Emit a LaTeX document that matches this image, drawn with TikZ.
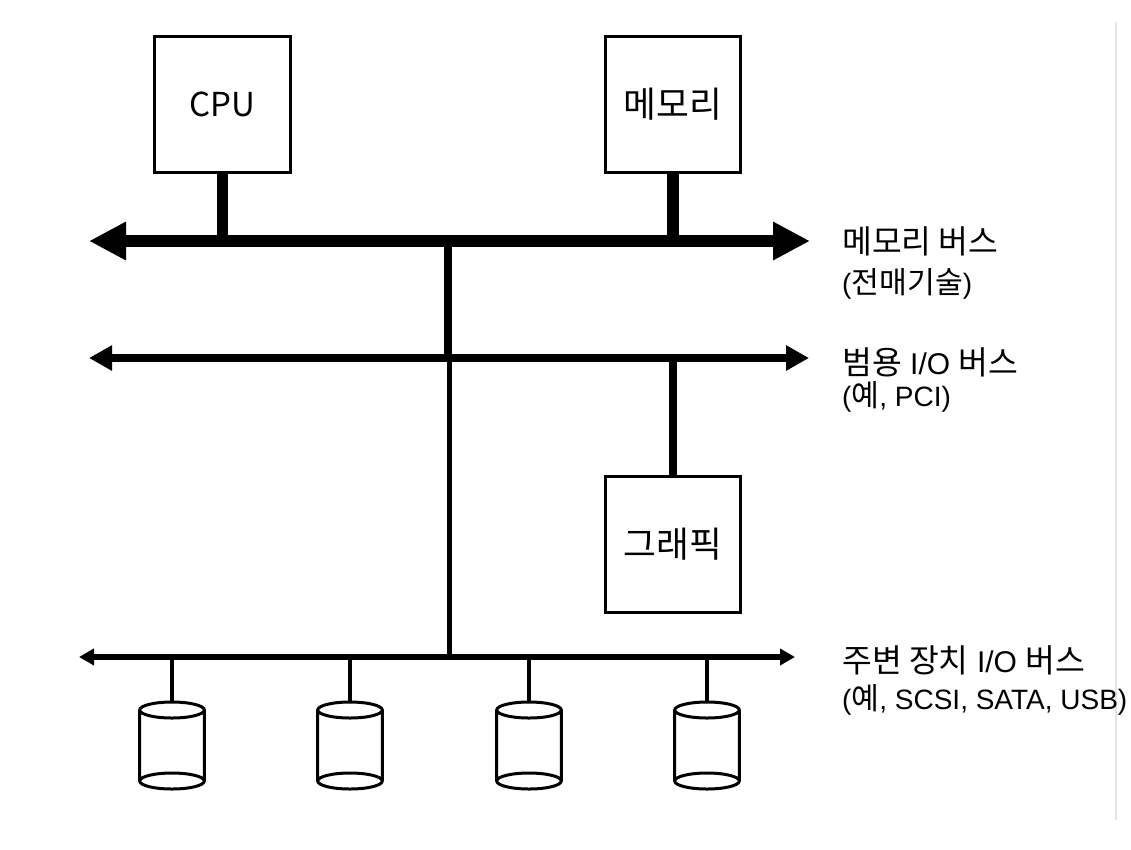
\documentclass[tikz,border=0pt]{standalone}
\usepackage{fontspec}
\setmainfont{Liberation Sans}
\newfontfamily\kr[Scale=1.08]{Noto Sans CJK KR}
\newfontfamily\krlat{Noto Sans CJK KR}
\usetikzlibrary{arrows.meta}

\begin{document}
\begin{tikzpicture}
	[x=1pt,y=-1pt,
	box/.style={draw, line width=3pt, minimum width=135.5pt, minimum height=136pt, inner sep=0pt, font=\kr\fontsize{33}{36}\selectfont},
	lbl/.style={anchor=west, inner sep=0pt, font=\fontsize{30}{34}\selectfont},
	sublbl/.style={anchor=west, inner sep=0pt, font=\fontsize{28}{32}\selectfont},
	membus/.style={line width=12pt, {Triangle[length=37pt,width=36pt]}-{Triangle[length=37pt,width=36pt]}},
	iobus/.style={line width=8pt, {Triangle[length=23pt,width=24pt]}-{Triangle[length=23pt,width=24pt]}},
	perbus/.style={line width=6.5pt, {Triangle[length=15pt,width=16pt]}-{Triangle[length=15pt,width=16pt]}},
	disk/.style={line width=3pt}]
	\useasboundingbox (0,0) rectangle (1131,849);
	\draw[line width=1.5pt, black!10] (1116,22) -- (1116,820);

	\node[box, font=\krlat\fontsize{33}{36}\selectfont] (cpu) at (222.5,104.5) {CPU};
	\node[box] (mem) at (673,104.5) {메모리};
	\node[box] (gfx) at (673,544.5) {그래픽};

	\coordinate (mL) at (89,241);  \coordinate (mR) at (810,241);
	\coordinate (iL) at (89,358);  \coordinate (iR) at (809,358);
	\coordinate (pL) at (79,657);  \coordinate (pR) at (795,657);
	\coordinate (t1) at (447.5,241); \coordinate (t2) at (447.5,358);
	\coordinate (t3) at (449,358);   \coordinate (t4) at (449,657);

	\draw[membus] (mL) -- (mR);
	\draw[iobus] (iL) -- (iR);
	\draw[perbus] (pL) -- (pR);
	\draw[line width=11.5pt] (cpu) -- (cpu |- mL);
	\draw[line width=11.5pt] (mem) -- (mem |- mR);
	\draw[line width=8.5pt] (gfx) -- (gfx |- iR);
	\draw[line width=8pt] (t1) -- (t2);
	\draw[line width=5pt] (t3) -- (t4);

	\node[lbl] (mlbl) at (842,241) {{\kr 메모리 버스}};
	\node[sublbl] (msub) at (842,284) {({\kr 전매기술})};
	\node[lbl] (ilbl) at (842,362) {{\kr 범용} I/O {\kr 버스}};
	\node[sublbl] (isub) at (842,397) {({\kr 예}, PCI)};
	\node[lbl] (plbl) at (842,660) {{\kr 주변 장치} I/O {\kr 버스}};
	\node[sublbl] (psub) at (842,700) {({\kr 예}, SCSI, SATA, USB)};

	\foreach \x [count=\i] in {172,350,529,707} {
		\coordinate (d\i) at (\x,702);
		\draw[line width=4pt] (d\i |- pL) -- (d\i);
		\draw[disk] (\x,710) ellipse (32.3 and 8)
			(\x-32.3,710) -- (\x-32.3,781) (\x+32.3,710) -- (\x+32.3,781)
			(\x,781) ellipse (32.3 and 8);
	}
\end{tikzpicture}
\end{document}
